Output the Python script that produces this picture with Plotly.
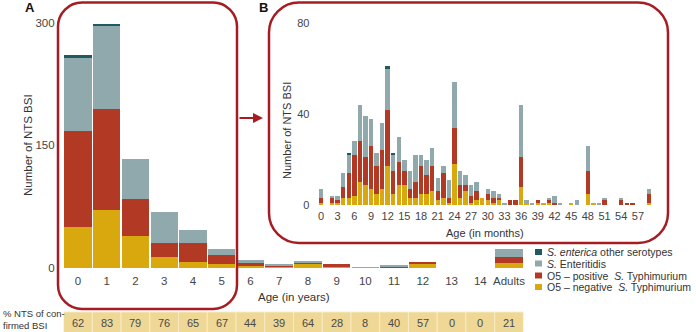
import plotly.graph_objects as go

W, H = 696, 332

# ---------------- data ----------------
age_years = ["0", "1", "2", "3", "4", "5", "6", "7", "8", "9", "10", "11", "12", "13", "14", "Adults"]
yr_o5_neg = [50, 71, 39, 13, 7, 4.5, 2, 1.7, 4.6, 1.5, 0, 1.2, 4.5, 0, 0, 6.5]
yr_o5_pos = [118, 123, 45, 18, 23, 11, 4.5, 1.3, 3, 3, 0, 1, 3.3, 0, 0, 6.5]
yr_enteritidis = [90, 101.5, 49, 37, 17, 8, 3.3, 1.5, 1, 0, 1.5, 1.5, 0, 0, 0, 10.3]
yr_other = [2, 2.5, 0, 0, 0, 0, 0, 0, 0, 0, 0, 0, 0, 0, 0, 0]
pct_nts = [62, 83, 79, 76, 65, 67, 44, 39, 64, 28, 8, 40, 57, 0, 0, 21]

age_months = list(range(60))
mo_o5_neg = [1, 0, 1, 1, 3, 3, 4, 10, 9, 7, 5, 7,
             17, 5, 9, 9, 3, 3, 5, 5, 6, 2, 3, 1,
             18, 3, 6, 1, 2, 3, 2, 1, 2, 0, 0, 0,
             8, 1, 0, 1, 1, 1, 0, 0, 0, 1, 0, 0,
             5, 1, 0, 0, 0, 0, 0, 0, 0, 0, 0, 1]
mo_o5_pos = [2, 0, 2, 1, 5, 11, 18, 18, 12, 19, 12, 17,
             25, 10, 10, 6, 4, 7, 12, 8, 11, 4, 11, 2,
             16, 6, 3, 3, 4, 0, 3, 2, 1, 0, 2, 2,
             13, 0, 0, 1, 0, 1, 1, 0, 0, 0, 0, 0,
             10, 0, 0, 2, 0, 0, 2, 1, 1, 0, 0, 4]
mo_enteritidis = [4, 0, 1, 2, 6, 8, 6, 16, 18, 12, 6, 12,
                  18, 7, 11, 5, 8, 12, 5, 7, 8, 6, 3, 8,
                  20, 6, 4, 5, 4, 0, 2, 3, 2, 1, 0, 0,
                  23, 1, 1, 0, 0, 1, 3, 1, 0, 0, 2, 0,
                  11, 0, 1, 1, 0, 0, 1, 0, 0, 0, 0, 2]
mo_other = [0, 0, 0, 0, 0, 1, 0, 0, 0, 0, 0, 0,
            1, 1, 0, 0, 0, 0, 0, 0, 0, 0, 0, 0,
            0, 0, 0, 0, 0, 0, 0, 0, 0, 0, 0, 0,
            0, 0, 0, 0, 0, 0, 0, 0, 0, 0, 0, 0,
            0, 0, 0, 0, 0, 0, 0, 0, 0, 0, 0, 0]
month_ticks = list(range(0, 58, 3))

series_names = ["O5 – negative  <i>S.</i> Typhimurium",
                "O5 – positive  <i>S.</i> Typhimurium",
                "<i>S.</i> Enteritidis",
                "<i>S. enterica</i> other serotypes"]
colors = ["#D9A70E", "#B23A25", "#8FA9AD", "#1E5A60"]
box_red = "#A61C22"
FONT = "Liberation Sans, Arial, sans-serif"


def px(x):
    return x / W


def py(y):
    return 1 - y / H


fig = go.Figure()

year_series = [yr_o5_neg, yr_o5_pos, yr_enteritidis, yr_other]
month_series = [mo_o5_neg, mo_o5_pos, mo_enteritidis, mo_other]
for name, col, vals in zip(series_names, colors, year_series):
    fig.add_trace(go.Bar(x=age_years, y=vals, name=name, marker_color=col,
                         marker_line_width=0, width=0.95, xaxis="x", yaxis="y",
                         showlegend=False, hoverinfo="skip"))
for name, col, vals in zip(series_names, colors, month_series):
    fig.add_trace(go.Bar(x=age_months, y=vals, name=name, marker_color=col,
                         marker_line_width=0, width=0.8, xaxis="x2", yaxis="y2",
                         showlegend=False, hoverinfo="skip"))


def rrect(x0, y0, x1, y1, r):
    k = 0.5523 * r
    pts = [("M", [(x0 + r, y0)]),
           ("L", [(x1 - r, y0)]),
           ("C", [(x1 - r + k, y0), (x1, y0 + r - k), (x1, y0 + r)]),
           ("L", [(x1, y1 - r)]),
           ("C", [(x1, y1 - r + k), (x1 - r + k, y1), (x1 - r, y1)]),
           ("L", [(x0 + r, y1)]),
           ("C", [(x0 + r - k, y1), (x0, y1 - r + k), (x0, y1 - r)]),
           ("L", [(x0, y0 + r)]),
           ("C", [(x0, y0 + r - k), (x0 + r - k, y0), (x0 + r, y0)])]
    s = ""
    for cmd, ps in pts:
        s += cmd + " " + " ".join(f"{px(a):.5f},{py(b):.5f}" for a, b in ps) + " "
    return s + "Z"


shapes = [
    dict(type="path", xref="paper", yref="paper", path=rrect(58, 2.5, 237, 309, 24),
         line=dict(color=box_red, width=2.5), layer="above"),
    dict(type="path", xref="paper", yref="paper", path=rrect(269, 2.5, 668, 243, 30),
         line=dict(color=box_red, width=2.5), layer="above"),
]

# table cells
for i, cat in enumerate(age_years):
    shapes.append(dict(type="rect", xref="x", yref="paper",
                       x0=i - 0.5, x1=i + 0.5, y0=py(333), y1=py(312),
                       fillcolor="#EFD795", line=dict(color="#F7EBC4", width=1), layer="below"))


def ann(x, y, text, size, color="#333", xanchor="center", **kw):
    d = dict(x=px(x), y=py(y), xref="paper", yref="paper", text=text, showarrow=False,
             xanchor=xanchor, yanchor="middle", font=dict(family=FONT, size=size, color=color))
    d.update(kw)
    return d


annotations = []
for cat, v in zip(age_years, pct_nts):
    annotations.append(dict(x=cat, xref="x", y=py(322.5), yref="paper", text=str(v),
                            showarrow=False, font=dict(family=FONT, size=11, color="#4a4a4a"),
                            xanchor="center", yanchor="middle"))
annotations.append(ann(1, 319.5, "% NTS of con-<br>firmed BSI", 9.5, xanchor="left", align="left"))

# panel letters
annotations.append(ann(30, 8, "<b>A</b>", 13, color="#111"))
annotations.append(ann(263, 8, "<b>B</b>", 13, color="#111"))

# axis titles
annotations.append(ann(28, 145, "Number of NTS BSI", 11.5, textangle=-90))
annotations.append(ann(287, 131, "Number of NTS BSI", 11, textangle=-90))
annotations.append(ann(294, 297, "Age (in years)", 11.5))
annotations.append(ann(485, 233, "Age (in months)", 11))

# arrow from A to B
annotations.append(dict(x=px(263), y=py(118), xref="paper", yref="paper", ax=-25, ay=0,
                        axref="pixel", ayref="pixel", text="", showarrow=True,
                        arrowhead=2, arrowsize=1, arrowwidth=2, arrowcolor=box_red))

# manual legend
leg_rows = [252, 263.5, 275.5, 287]
leg_order = [3, 2, 1, 0]
for row_y, idx in zip(leg_rows, leg_order):
    shapes.append(dict(type="rect", xref="paper", yref="paper",
                       x0=px(535), x1=px(542), y0=py(row_y + 3), y1=py(row_y - 3),
                       fillcolor=colors[idx], line=dict(width=0)))
    annotations.append(ann(545, row_y, series_names[idx], 10.5, xanchor="left"))

fig.update_layout(
    width=W, height=H,
    margin=dict(l=0, r=0, t=0, b=0, autoexpand=False),
    paper_bgcolor="white", plot_bgcolor="rgba(0,0,0,0)",
    barmode="stack",
    showlegend=False,
    font=dict(family=FONT, color="#333"),
    xaxis=dict(domain=[px(63.6), px(523.4)], type="category", categoryorder="array",
               categoryarray=age_years, range=[-0.5, 15.5], showgrid=False, zeroline=False,
               showline=False, ticks="", tickfont=dict(size=11.5, color="#444"),
               anchor="y", ticklabelstandoff=4, automargin=False),
    yaxis=dict(domain=[py(268), py(22.7)], range=[0, 300], tickvals=[0, 150, 300],
               showgrid=False, zeroline=False, showline=False, ticks="",
               tickfont=dict(size=11.5, color="#444"), anchor="x", ticklabelstandoff=8,
               automargin=False),
    xaxis2=dict(domain=[px(315.4), px(654.6)], range=[-1, 60], tickvals=month_ticks,
                showgrid=False, zeroline=False, showline=False, ticks="",
                tickfont=dict(size=11, color="#444"), anchor="y2", ticklabelstandoff=3,
                automargin=False),
    yaxis2=dict(domain=[py(205), py(23.3)], range=[0, 80], tickvals=[0, 40, 80],
                showgrid=False, zeroline=False, showline=False, ticks="",
                tickfont=dict(size=11, color="#444"), anchor="x2", ticklabelstandoff=5,
                automargin=False),
    shapes=shapes,
    annotations=annotations,
)

fig.write_html("out.html", config={"displayModeBar": False},
               post_script="document.body.style.margin='0';document.body.style.overflow='hidden';")
